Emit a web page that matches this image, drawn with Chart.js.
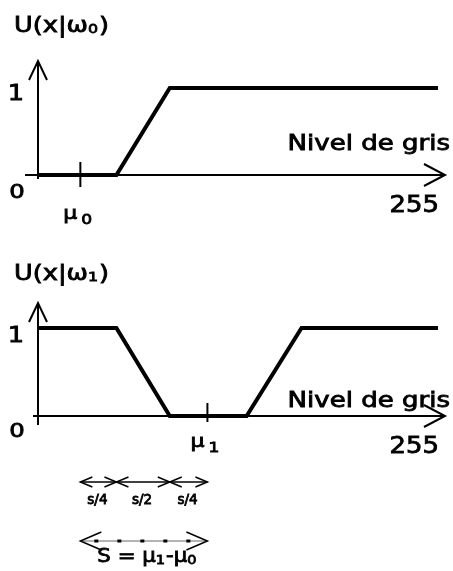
<!DOCTYPE html>
<html>
<head>
<meta charset="utf-8">
<script src="https://cdn.jsdelivr.net/npm/chart.js@4.4.0/dist/chart.umd.min.js"></script>
<style>
  html, body { margin: 0; padding: 0; background: #fff; }
  #wrap { position: relative; width: 453px; height: 571px; }
  #topChart { position: absolute; left: 0; top: 0; }
  #bottomChart { position: absolute; left: 0; top: 230px; }
</style>
</head>
<body>
<div id="wrap">
  <canvas id="topChart" width="453" height="230"></canvas>
  <canvas id="bottomChart" width="453" height="341"></canvas>
</div>
<script>
// gray levels and membership values
var grayMax = 255;
var grayX0 = [0, 50, 84, 255];
var member0 = [0, 0, 1, 1];
var grayX1 = [0, 50, 84, 133, 168, 255];
var member1 = [1, 1, 0, 0, 1, 1];
var meanLevels = [27, 108];          // mu0, mu1
var splitPoints = [27, 50, 84, 108]; // mu0 .. mu1 split in s/4, s/2, s/4
var splitLabels = ['s/4', 's/2', 's/4'];

var FONT = '"DejaVu Sans", Verdana, sans-serif';

function pts(xs, ys) {
  return xs.map(function(x, i) { return { x: x, y: ys[i] }; });
}

// draws horizontally widened text, returns the advance width
function txt(ctx, s, x, y, size, align, wide) {
  wide = wide || 1.22;
  ctx.font = 'normal ' + size + 'px ' + FONT;
  ctx.textAlign = 'left';
  ctx.textBaseline = 'alphabetic';
  var w = ctx.measureText(s).width * wide;
  var left = x;
  if (align === 'center') left = x - w / 2;
  else if (align === 'right') left = x - w;
  ctx.save();
  ctx.translate(left, y);
  ctx.scale(wide, 1);
  ctx.fillText(s, 0, 0);
  ctx.lineWidth = 0.8;
  ctx.strokeText(s, 0, 0);
  ctx.restore();
  return w;
}

function line(ctx, x1, y1, x2, y2) {
  ctx.beginPath();
  ctx.moveTo(x1, y1);
  ctx.lineTo(x2, y2);
  ctx.stroke();
}

// chevron tip at (x,y); dir = 1 points right, -1 points left
function headH(ctx, x, y, dir, len, half) {
  ctx.beginPath();
  ctx.moveTo(x - dir * len, y - half);
  ctx.lineTo(x, y);
  ctx.lineTo(x - dir * len, y + half);
  ctx.stroke();
}

var axisArrows = {
  id: 'axisArrows',
  afterDraw: function(chart, args, o) {
    var ctx = chart.ctx, xs = chart.scales.x, ys = chart.scales.y;
    var ox = xs.getPixelForValue(0), ex = xs.getPixelForValue(grayMax);
    var y0 = ys.getPixelForValue(0), y1 = ys.getPixelForValue(1);
    var mx = xs.getPixelForValue(o.mu);

    ctx.save();
    ctx.strokeStyle = '#000';
    ctx.fillStyle = '#000';
    ctx.lineWidth = 2;
    ctx.lineCap = 'butt';

    // x axis with arrow
    line(ctx, o.xStart, y0, ex + 7, y0);
    headH(ctx, ex + 7, y0, 1, 21, 11);
    // y axis with arrow
    var top = y1 - o.arrowUp;
    line(ctx, ox, y0 + o.yBelow, ox, top);
    ctx.beginPath();
    ctx.moveTo(ox - 9, top + 19);
    ctx.lineTo(ox, top);
    ctx.lineTo(ox + 9, top + 19);
    ctx.stroke();
    // mean tick
    line(ctx, mx, y0 - 13, mx, y0 + o.tickBelow);

    // texts
    var ty = y1 - o.titleUp;
    var w = txt(ctx, 'U(x|\u03c9', 14, ty, 21);
    var w2 = txt(ctx, o.sub, 14 + w, ty + 1, 13);
    txt(ctx, ')', 14 + w + w2 + 1, ty, 21);

    txt(ctx, '1', ox - 22, y1 + o.oneDown, 21, 'center');
    txt(ctx, '0', ox - 21, y0 + o.zeroDown, 20, 'center');
    txt(ctx, 'Nivel de gris', ex + 12, y0 - o.nivelUp, 20.5, 'right', 1.27);
    txt(ctx, '255', ex + 1, y0 + 37, 22.5, 'right', 1.15);

    txt(ctx, '\u03bc', mx - 17, y0 + o.muDown, 18);
    txt(ctx, o.sub, mx + 1, y0 + o.muDown + 5, 14);
    ctx.restore();
  }
};

// s/4, s/2, s/4 and s = mu1 - mu0 arrows under the second chart
var spanArrows = {
  id: 'spanArrows',
  afterDraw: function(chart) {
    var ctx = chart.ctx, xs = chart.scales.x, ys = chart.scales.y;
    var y0 = ys.getPixelForValue(0);
    var ya = y0 + 66, yb = y0 + 125;
    ctx.save();
    ctx.strokeStyle = '#000';
    ctx.fillStyle = '#000';
    ctx.lineWidth = 1.5;
    for (var i = 0; i < splitLabels.length; i++) {
      var a = xs.getPixelForValue(splitPoints[i]);
      var b = xs.getPixelForValue(splitPoints[i + 1]);
      line(ctx, a, ya, b, ya);
      headH(ctx, a, ya, -1, 12, 5);
      headH(ctx, b, ya, 1, 12, 5);
      ctx.lineWidth = 1.5;
      txt(ctx, splitLabels[i], (a + b) / 2 - 1, ya + 22, 13.5, 'center', 1.0);
    }

    var p0 = xs.getPixelForValue(meanLevels[0]);
    var p1 = xs.getPixelForValue(meanLevels[1]);
    ctx.lineWidth = 1;
    ctx.strokeStyle = '#666';
    line(ctx, p0, yb, p1, yb);
    ctx.strokeStyle = '#000';
    ctx.lineWidth = 3;
    ctx.setLineDash([4, 19]);
    ctx.lineDashOffset = -14;
    line(ctx, p0, yb, p1, yb);
    ctx.setLineDash([]);
    ctx.lineWidth = 1.5;
    headH(ctx, p0, yb, -1, 21, 9);
    headH(ctx, p1, yb, 1, 21, 9);

    var x = p0 + 17, by = yb + 21;
    x += txt(ctx, 'S = \u03bc', x, by, 19, 'left', 1.12);
    x += txt(ctx, '1', x, by + 2, 13, 'left', 1.12);
    x += txt(ctx, '-\u03bc', x + 1, by, 19, 'left', 1.12) + 1;
    txt(ctx, '0', x, by + 2, 13, 'left', 1.12);
    ctx.restore();
  }
};

function makeChart(id, xs, ys, pad, arrowOpts, extra) {
  var plugins = [axisArrows];
  if (extra) plugins.push(extra);
  return new Chart(document.getElementById(id), {
    type: 'line',
    data: {
      datasets: [{
        data: pts(xs, ys),
        borderColor: '#000',
        borderWidth: 4,
        borderJoinStyle: 'miter',
        pointRadius: 0,
        tension: 0,
        clip: false
      }]
    },
    options: {
      responsive: false,
      animation: false,
      events: [],
      devicePixelRatio: 1,
      layout: { padding: pad },
      plugins: {
        legend: { display: false },
        tooltip: { enabled: false },
        axisArrows: arrowOpts
      },
      scales: {
        x: { type: 'linear', min: 0, max: grayMax, display: false },
        y: { type: 'linear', min: 0, max: 1, display: false }
      }
    },
    plugins: plugins
  });
}

makeChart('topChart', grayX0, member0,
  { left: 38, right: 15, top: 88, bottom: 55 },
  { mu: meanLevels[0], sub: '0', xStart: 25, yBelow: 4, tickBelow: 12,
    arrowUp: 27, titleUp: 56, oneDown: 12, zeroDown: 23, nivelUp: 25, muDown: 44 });

makeChart('bottomChart', grayX1, member1,
  { left: 38, right: 15, top: 98, bottom: 155 },
  { mu: meanLevels[1], sub: '1', xStart: 33, yBelow: 9, tickBelow: 6,
    arrowUp: 25, titleUp: 48, oneDown: 14, zeroDown: 21, nivelUp: 9, muDown: 31 },
  spanArrows);
</script>
</body>
</html>
